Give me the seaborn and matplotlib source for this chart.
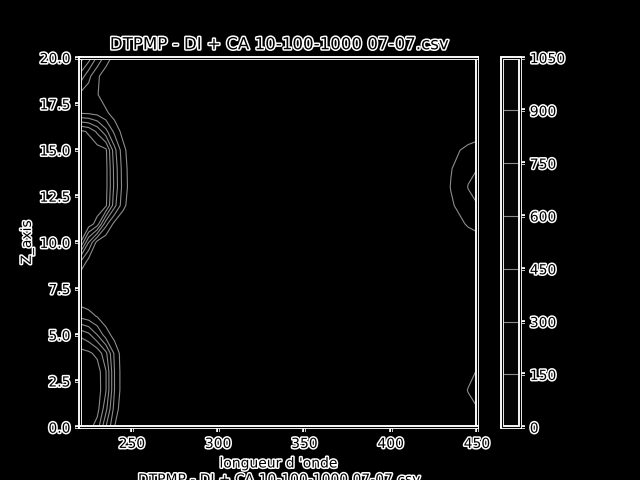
import matplotlib
matplotlib.use("Agg")
import numpy as np
import pandas as pd
import matplotlib.pyplot as plt
import matplotlib.patheffects as pe
from matplotlib.text import Text
from matplotlib.lines import Line2D
import seaborn as sns

title = "DTPMP - DI + CA 10-100-1000 07-07.csv"
xlabel = "longueur d 'onde"
ylabel = "Z_axis"

wavelength = [220, 225, 230, 235, 240, 245, 250, 260, 430, 435, 440, 445, 450]
z_axis = list(range(21))
levels = [0, 150, 300, 450, 600, 750, 900, 1050]

# intensity, one row per z value (columns follow wavelength)
intensity = [
    [1000, 960, 825, 450, 150, 30, 0, 0, 0, 0, 0, 20, 60],
    [1020, 1000, 960, 650, 240, 40, 0, 0, 0, 0, 20, 80, 140],
    [1030, 1020, 990, 760, 300, 60, 0, 0, 0, 10, 60, 160, 220],
    [1020, 1010, 980, 760, 300, 60, 0, 0, 0, 0, 20, 90, 160],
    [960, 930, 860, 640, 270, 55, 0, 0, 0, 0, 0, 20, 60],
    [720, 640, 450, 220, 90, 20, 0, 0, 0, 0, 0, 0, 0],
    [260, 210, 140, 60, 15, 0, 0, 0, 0, 0, 0, 0, 0],
    [60, 40, 20, 5, 0, 0, 0, 0, 0, 0, 0, 0, 0],
    [40, 35, 20, 5, 0, 0, 0, 0, 0, 0, 0, 0, 0],
    [330, 100, 40, 10, 0, 0, 0, 0, 0, 0, 0, 0, 0],
    [930, 450, 90, 20, 0, 0, 0, 0, 0, 0, 0, 10, 40],
    [1000, 990, 830, 350, 100, 20, 0, 0, 0, 20, 100, 180, 230],
    [1010, 1010, 1000, 930, 500, 200, 40, 0, 10, 120, 200, 260, 290],
    [1000, 1010, 1000, 950, 560, 240, 60, 0, 40, 160, 230, 305, 360],
    [1000, 1000, 990, 950, 550, 230, 55, 0, 20, 140, 210, 270, 295],
    [990, 990, 970, 930, 500, 200, 40, 0, 0, 40, 145, 200, 230],
    [940, 880, 720, 500, 260, 90, 10, 0, 0, 0, 10, 30, 60],
    [290, 280, 250, 180, 80, 10, 0, 0, 0, 0, 0, 0, 0],
    [270, 230, 160, 60, 10, 0, 0, 0, 0, 0, 0, 0, 0],
    [560, 340, 180, 60, 10, 0, 0, 0, 0, 0, 0, 0, 0],
    [820, 680, 420, 240, 90, 20, 0, 0, 0, 0, 0, 0, 0],
]

df = pd.DataFrame(intensity, index=z_axis, columns=wavelength)

sns.set_style("ticks", rc={
    "figure.facecolor": "black",
    "axes.facecolor": "black",
    "axes.edgecolor": "black",
    "text.color": "black",
    "axes.labelcolor": "black",
    "xtick.color": "black",
    "ytick.color": "black",
})

line_colors = ["black"] + sns.color_palette(["#8c8c8c"] * (len(levels) - 1))

fig, ax = plt.subplots(figsize=(6.4, 4.8), dpi=100)
cs = ax.contour(df.columns.values, df.index.values, df.values,
                levels=levels, colors=line_colors, linewidths=0.8)
cbar = fig.colorbar(cs, ax=ax)
cbar.set_ticks(levels)

ax.set_xlim(220, 450)
ax.set_ylim(0, 20)
ax.set_xticks([250, 300, 350, 400, 450])
ax.set_title(title)
ax.set_xlabel(xlabel + "\n" + title)
ax.set_ylabel(ylabel)

fig.canvas.draw()

# hollow look: black strokes with a white outline
outline = [pe.withStroke(linewidth=2.2, foreground="white")]
for obj in fig.findobj(Text):
    obj.set_path_effects(outline)
for obj in fig.findobj(Line2D):
    obj.set_path_effects([pe.withStroke(linewidth=2.6, foreground="white")])
for sp in list(ax.spines.values()):
    sp.set_linewidth(0.8)
    sp.set_path_effects([pe.withStroke(linewidth=2.8, foreground="white")])
cbar.outline.set_linewidth(0.8)
cbar.outline.set_edgecolor("black")
cbar.outline.set_path_effects([pe.withStroke(linewidth=2.8, foreground="white")])
cbar.ax.set_facecolor("#050505")

fig.savefig("out.png", dpi=100, facecolor="black")
